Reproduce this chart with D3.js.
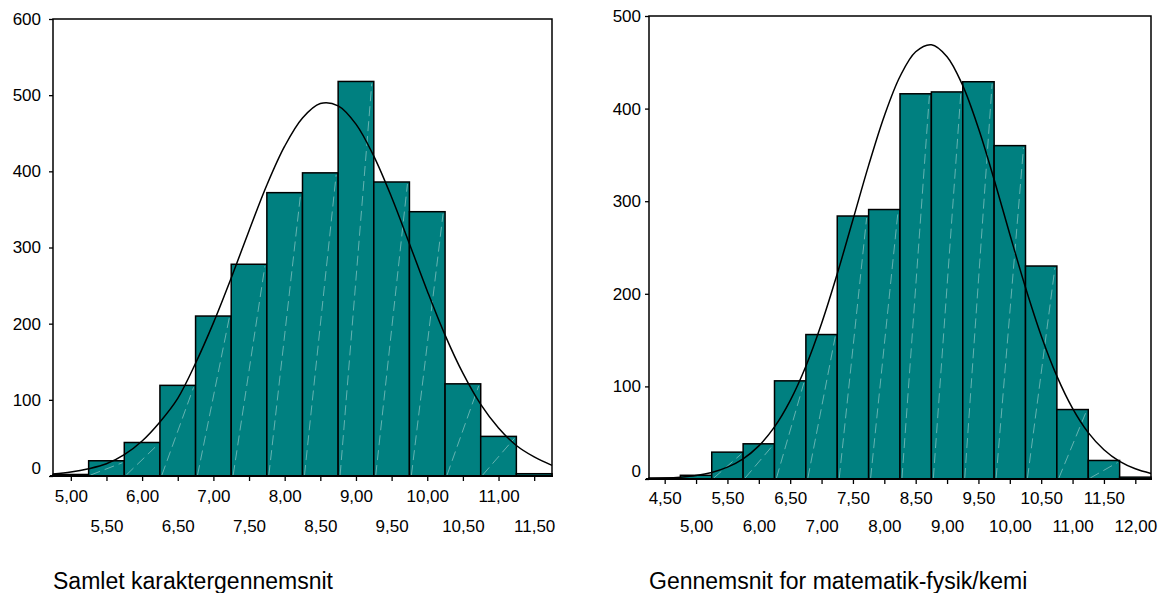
<!DOCTYPE html>
<html>
<head>
<meta charset="utf-8">
<script src="https://cdn.jsdelivr.net/npm/d3@7"></script>
<style>
  html, body { margin: 0; padding: 0; background: #ffffff; }
  svg { display: block; }
  text { font-family: "Liberation Sans", Arial, sans-serif; fill: #000; }
</style>
</head>
<body>
<svg id="chart" width="1159" height="593"></svg>
<script>
// ---------- DATA ----------
// Left panel: Samlet karaktergennemsnit
const leftTitle = "Samlet karaktergennemsnit";
const leftBinCenters = [5.0, 5.5, 6.0, 6.5, 7.0, 7.5, 8.0, 8.5, 9.0, 9.5, 10.0, 10.5, 11.0, 11.5];
const leftCounts     = [2, 20, 44, 119, 210, 278, 372, 398, 518, 386, 347, 121, 52, 3];
const leftCurveX = [4.75, 5.0, 5.25, 5.5, 5.75, 6.0, 6.25, 6.5, 6.75, 7.0, 7.25, 7.5, 7.75, 8.0, 8.25,
                    8.5, 8.75, 9.0, 9.25, 9.5, 9.75, 10.0, 10.25, 10.5, 10.75, 11.0, 11.25, 11.5, 11.75];
const leftCurveY = [2.7, 5.2, 9.5, 16, 28, 46, 71, 102, 148, 201, 260, 322, 382, 433, 470,
                    489, 486, 462, 420, 366, 305, 243, 185, 135, 94, 63, 40, 25, 14];
const leftXTicks = [5.0, 5.5, 6.0, 6.5, 7.0, 7.5, 8.0, 8.5, 9.0, 9.5, 10.0, 10.5, 11.0, 11.5];
const leftYTicks = [0, 100, 200, 300, 400, 500, 600];

// Right panel: Gennemsnit for matematik-fysik/kemi
const rightTitle = "Gennemsnit for matematik-fysik/kemi";
const rightBinCenters = [4.5, 5.0, 5.5, 6.0, 6.5, 7.0, 7.5, 8.0, 8.5, 9.0, 9.5, 10.0, 10.5, 11.0, 11.5, 12.0];
const rightCounts     = [1, 4, 29, 38, 106, 156, 284, 291, 416, 418, 429, 360, 230, 75, 20, 2];
const rightCurveX = [4.25, 4.5, 4.75, 5.0, 5.25, 5.5, 5.75, 6.0, 6.25, 6.5, 6.75, 7.0, 7.25, 7.5, 7.75, 8.0, 8.25,
                     8.5, 8.75, 9.0, 9.25, 9.5, 9.75, 10.0, 10.25, 10.5, 10.75, 11.0, 11.25, 11.5, 11.75, 12.0, 12.25];
const rightCurveY = [0.5, 1, 2, 3.8, 7.1, 12.8, 21.8, 35.8, 56.3, 84.7, 121.8, 167.9, 221.6, 280, 338.7, 392.1, 434.7,
                     461.4, 469, 456.1, 424.8, 378.8, 323.4, 264.3, 206.8, 154.8, 111.1, 76.3, 50.1, 31.6, 19, 11, 6];
const rightXTicks = [4.5, 5.0, 5.5, 6.0, 6.5, 7.0, 7.5, 8.0, 8.5, 9.0, 9.5, 10.0, 10.5, 11.0, 11.5, 12.0];
const rightYTicks = [0, 100, 200, 300, 400, 500];

const binWidth = 0.5;

// ---------- DRAWING ----------
const svg = d3.select("#chart");
svg.append("rect").attr("width", 1159).attr("height", 593).attr("fill", "#ffffff");

const fmt = v => d3.format(".2f")(v).replace(".", ",");

function panel(cfg) {
  const x = d3.scaleLinear().domain(cfg.xDomain).range([cfg.left, cfg.right]);
  const y = d3.scaleLinear().domain(cfg.yDomain).range([cfg.bottom, cfg.top]);
  const g = svg.append("g");

  // bars
  const bars = cfg.centers.map((c, i) => ({ x0: c - binWidth / 2, x1: c + binWidth / 2, n: cfg.counts[i] }));
  g.selectAll("rect.bar").data(bars).join("rect")
    .attr("class", "bar")
    .attr("x", d => x(d.x0))
    .attr("y", d => y(d.n))
    .attr("width", d => x(d.x1) - x(d.x0))
    .attr("height", d => y(0) - y(d.n))
    .attr("fill", "#008080")
    .attr("stroke", "#000")
    .attr("stroke-width", 1.5);

  // faint diagonal artefact lines inside bars
  g.selectAll("line.diag").data(bars.filter(d => d.n > 10)).join("line")
    .attr("class", "diag")
    .attr("x1", d => x(d.x0) + 2).attr("y1", y(0) - 1)
    .attr("x2", d => x(d.x1) - 2).attr("y2", d => y(d.n) + 2)
    .attr("stroke", "#9fd0ce")
    .attr("stroke-width", 0.8)
    .attr("stroke-dasharray", "10,5")
    .attr("opacity", 0.8);

  // normal curve
  const pts = cfg.curveX.map((v, i) => [v, cfg.curveY[i]]);
  g.append("path")
    .attr("d", d3.line().x(d => x(d[0])).y(d => y(d[1])).curve(d3.curveCatmullRom)(pts))
    .attr("fill", "none")
    .attr("stroke", "#000")
    .attr("stroke-width", 1.5);

  // frame
  g.append("path")
    .attr("d", `M${cfg.left},${cfg.bottom}V${cfg.top}H${cfg.right}V${cfg.bottom}`)
    .attr("fill", "none").attr("stroke", "#000").attr("stroke-width", 1.5);
  g.append("line")
    .attr("x1", cfg.left - 3).attr("x2", cfg.right + 1)
    .attr("y1", cfg.bottom).attr("y2", cfg.bottom)
    .attr("stroke", "#000").attr("stroke-width", 2.2);

  // y axis
  const ya = g.append("g").attr("transform", `translate(${cfg.left},0)`)
    .call(d3.axisLeft(y).tickValues(cfg.yTicks).tickSize(4).tickPadding(cfg.yPad).tickFormat(d3.format("d")));
  ya.select(".domain").remove();
  ya.selectAll(".tick line").attr("stroke", "#000").attr("stroke-width", 1.3);
  ya.selectAll(".tick text")
    .attr("font-size", 17)
    .attr("font-family", '"Liberation Sans", Arial, sans-serif')
    .attr("dy", d => d === 0 ? "-0.15em" : "0.32em");

  // x axis
  const xa = g.append("g").attr("transform", `translate(0,${cfg.bottom})`)
    .call(d3.axisBottom(x).tickValues(cfg.xTicks).tickSize(5).tickFormat(fmt));
  xa.select(".domain").remove();
  xa.selectAll(".tick line").attr("stroke", "#000").attr("stroke-width", 1.3);
  xa.selectAll(".tick text")
    .attr("font-size", 17)
    .attr("font-family", '"Liberation Sans", Arial, sans-serif')
    .attr("y", (d, i) => i % 2 === 0 ? cfg.row1 : cfg.row2)
    .attr("dy", 0);

  // title
  svg.append("text")
    .attr("x", cfg.left)
    .attr("y", 589)
    .attr("font-size", 23)
    .text(cfg.title);
}

panel({
  xDomain: [4.75, 11.75], yDomain: [0, 600],
  left: 53, right: 552, top: 19, bottom: 476,
  centers: leftBinCenters, counts: leftCounts,
  curveX: leftCurveX, curveY: leftCurveY,
  xTicks: leftXTicks, yTicks: leftYTicks,
  yPad: 8, row1: 26, row2: 56,
  title: leftTitle
});

panel({
  xDomain: [4.25, 12.25], yDomain: [0, 500],
  left: 649, right: 1151, top: 16, bottom: 479,
  centers: rightBinCenters, counts: rightCounts,
  curveX: rightCurveX, curveY: rightCurveY,
  xTicks: rightXTicks, yTicks: rightYTicks,
  yPad: 4, row1: 25, row2: 53,
  title: rightTitle
});
</script>
</body>
</html>
